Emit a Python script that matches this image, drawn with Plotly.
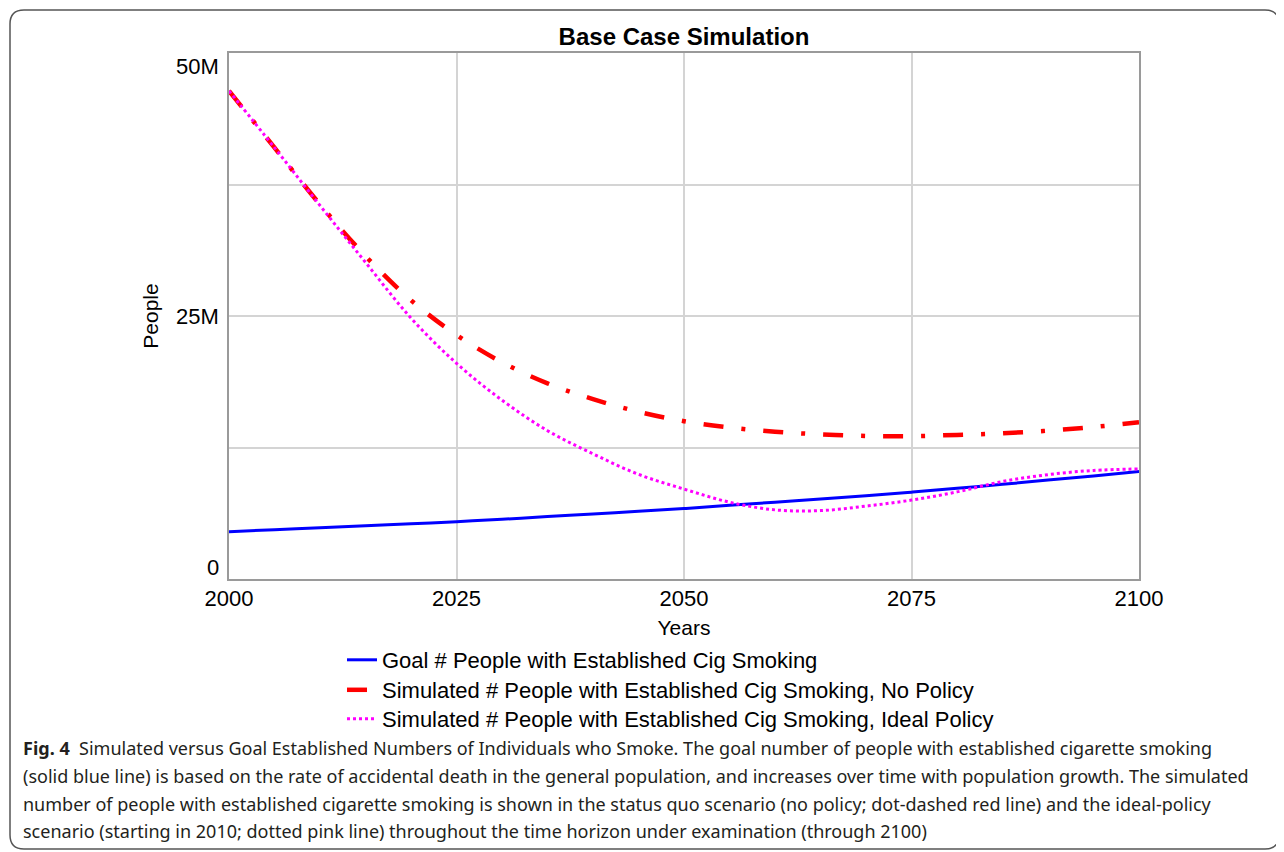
import plotly.graph_objects as go

# ---------------- data ----------------
years = [2000, 2005, 2010, 2015, 2020, 2025, 2030, 2035, 2040, 2045, 2050,
         2055, 2060, 2065, 2070, 2075, 2080, 2085, 2090, 2095, 2100]

goal_people = [4.50, 4.68, 4.87, 5.06, 5.25, 5.45, 5.68, 5.93, 6.18, 6.44, 6.70,
               7.00, 7.30, 7.60, 7.92, 8.25, 8.62, 9.00, 9.40, 9.80, 10.23]

no_policy = [46.4, 41.0, 35.6, 30.7, 26.5, 23.2, 20.6, 18.6, 17.1, 15.9, 15.0,
             14.4, 14.0, 13.75, 13.6, 13.58, 13.7, 13.85, 14.1, 14.45, 14.9]

ideal_policy = [46.4, 41.0, 35.5, 30.1, 24.8, 20.5, 17.0, 14.1, 11.9, 9.95, 8.55,
                7.3, 6.57, 6.5, 6.93, 7.5, 8.28, 9.27, 9.92, 10.32, 10.46]

scale = 1e6
series_names = ["Goal # People with Established Cig Smoking",
                "Simulated # People with Established Cig Smoking, No Policy",
                "Simulated # People with Established Cig Smoking, Ideal Policy"]

x_ticks = [2000, 2025, 2050, 2075, 2100]
y_grid = [0, 12.5e6, 25e6, 37.5e6, 50e6]
y_labels = [(0, "0"), (25e6, "25M"), (50e6, "50M")]

caption_lines = [
    "<b>Fig. 4</b>  Simulated versus Goal Established Numbers of Individuals who Smoke. The goal number of people with established cigarette smoking",
    "(solid blue line) is based on the rate of accidental death in the general population, and increases over time with population growth. The simulated",
    "number of people with established cigarette smoking is shown in the status quo scenario (no policy; dot-dashed red line) and the ideal-policy",
    "scenario (starting in 2010; dotted pink line) throughout the time horizon under examination (through 2100)",
]

# ---------------- layout geometry (reference pixel coords, page has 8px body margin) ----------------
OFF = 8
W, H = 1284 - OFF, 852 - OFF
L, R, T, B = 229, 1139, 53, 579  # plot area in reference pixels


def px(xr):
    return (xr - L) / (R - L)


def py(yr):
    return (B - yr) / (B - T)


FONT = "Liberation Sans, Arial, sans-serif"
CAP_FONT = "Noto Sans, Open Sans, sans-serif"

fig = go.Figure()
fig.add_trace(go.Scatter(
    x=years, y=[v * scale for v in goal_people], name=series_names[0], legend="legend",
    mode="lines", line=dict(color="#0000FF", width=3, shape="spline")))
fig.add_trace(go.Scatter(
    x=years, y=[v * scale for v in no_policy], name=series_names[1], legend="legend2",
    mode="lines", line=dict(color="#FF0000", width=4.5, shape="spline",
                            dash="20px,18px,4px,18px")))
fig.add_trace(go.Scatter(
    x=years, y=[v * scale for v in ideal_policy], name=series_names[2], legend="legend3",
    mode="lines", line=dict(color="#FF00FF", width=3, shape="spline",
                            dash="3px,3px")))

annotations = []
for val, txt in y_labels:
    shift = 12 if val == 0 else (-13 if val == 50e6 else 0)
    annotations.append(dict(x=0, xref="paper", y=val, yref="y", text=txt,
                            xanchor="right", yanchor="middle", xshift=-8, yshift=shift,
                            showarrow=False, font=dict(family=FONT, size=22, color="#000")))

cap_y = [748, 776, 804, 831]
for line, yy in zip(caption_lines, cap_y):
    annotations.append(dict(x=px(21), xref="paper", y=py(yy), yref="paper", text=line,
                            xanchor="left", yanchor="middle", showarrow=False,
                            font=dict(family=CAP_FONT, size=18, color="#231f20")))

# rounded outer frame
l0, t0, r0, b0, rad = 10, 10, 1279, 849, 14
path = (f"M {px(l0)},{py(t0 + rad)} Q {px(l0)},{py(t0)} {px(l0 + rad)},{py(t0)} "
        f"L {px(r0 - rad)},{py(t0)} Q {px(r0)},{py(t0)} {px(r0)},{py(t0 + rad)} "
        f"L {px(r0)},{py(b0 - rad)} Q {px(r0)},{py(b0)} {px(r0 - rad)},{py(b0)} "
        f"L {px(l0 + rad)},{py(b0)} Q {px(l0)},{py(b0)} {px(l0)},{py(b0 - rad)} Z")

legend_font = dict(family=FONT, size=22, color="#000")
leg_common = dict(xanchor="left", yanchor="middle", bgcolor="rgba(0,0,0,0)",
                  font=legend_font, itemwidth=30, borderwidth=0)
leg_x = px(342)

fig.update_layout(
    width=W, height=H,
    margin=dict(l=L - OFF, r=W - (R - OFF), t=T - OFF, b=H - (B - OFF), autoexpand=False),
    paper_bgcolor="white", plot_bgcolor="white",
    title=dict(text="<b>Base Case Simulation</b>", x=((L + R) / 2 - OFF) / W, xanchor="center",
               y=1 - (37 - OFF) / H, yanchor="middle", font=dict(family=FONT, size=24, color="#000")),
    xaxis=dict(range=[2000, 2100], tickvals=x_ticks, ticktext=[str(t) for t in x_ticks],
               showgrid=True, gridcolor="#d4d4d4", gridwidth=1.5,
               showline=True, linecolor="#9a9a9a", linewidth=2, mirror=True,
               ticks="", ticklabelstandoff=-1, zeroline=False,
               tickfont=dict(family=FONT, size=22, color="#000"),
               title=dict(text="Years", standoff=10, font=dict(family=FONT, size=21, color="#000"))),
    yaxis=dict(range=[0, 50e6], tickvals=y_grid, showticklabels=False,
               showgrid=True, gridcolor="#d4d4d4", gridwidth=1.5,
               showline=True, linecolor="#9a9a9a", linewidth=2, mirror=True,
               ticks="", zeroline=False,
               title=dict(text="People", standoff=63, font=dict(family=FONT, size=21, color="#000"))),
    showlegend=True,
    legend=dict(x=leg_x, y=py(660), **leg_common),
    legend2=dict(x=leg_x, y=py(690), **leg_common),
    legend3=dict(x=leg_x, y=py(719), **leg_common),
    annotations=annotations,
    shapes=[dict(type="path", path=path, xref="paper", yref="paper",
                 line=dict(color="#555555", width=1.5), layer="above")],
)

fig.write_html("out.html")
